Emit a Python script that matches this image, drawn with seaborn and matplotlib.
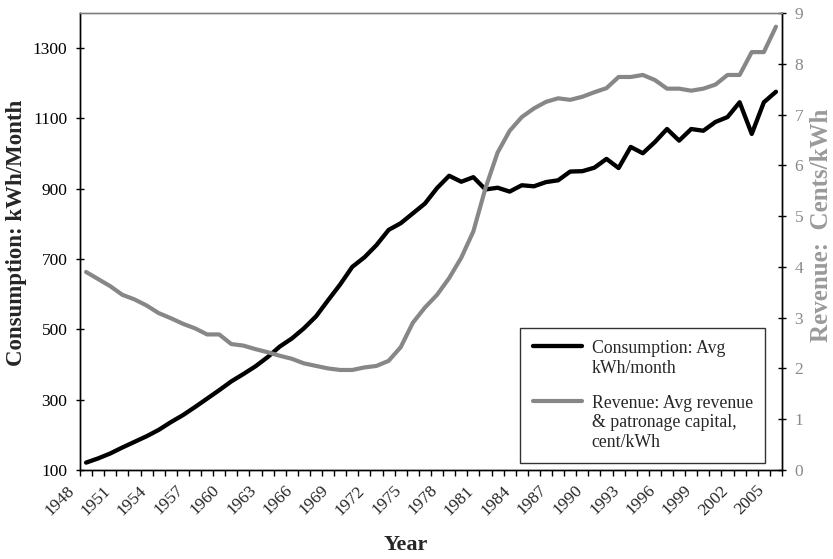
import numpy as np
import pandas as pd
import matplotlib.pyplot as plt
import matplotlib.transforms as mtransforms
from matplotlib.lines import Line2D
import seaborn as sns

# data
years = list(range(1948, 2006))
consumption = [121, 133, 147, 164, 180, 196, 214, 236, 256, 279,
               303, 327, 352, 373, 395, 421, 451, 474, 503, 537,
               583, 628, 678, 705, 740, 783, 802, 830, 858, 902,
               937, 920, 933, 898, 903, 892, 910, 907, 919, 924,
               949, 950, 960, 985, 959, 1019, 1001, 1033, 1070, 1037,
               1070, 1065, 1090, 1104, 1146, 1056, 1146, 1176]
revenue = [3.90, 3.76, 3.62, 3.45, 3.36, 3.24, 3.09, 2.99, 2.88, 2.79,
           2.67, 2.67, 2.48, 2.45, 2.38, 2.32, 2.25, 2.19, 2.10, 2.05,
           2.00, 1.97, 1.97, 2.02, 2.05, 2.15, 2.42, 2.90, 3.20, 3.45,
           3.78, 4.18, 4.70, 5.55, 6.25, 6.68, 6.95, 7.12, 7.25, 7.32,
           7.29, 7.35, 7.44, 7.52, 7.74, 7.74, 7.78, 7.68, 7.51, 7.51,
           7.47, 7.51, 7.59, 7.78, 7.78, 8.23, 8.23, 8.73]
year_labels = years[::3]
left_ticks = [100, 300, 500, 700, 900, 1100, 1300]
right_ticks = list(range(0, 10))
legend_labels = ['Consumption: Avg\nkWh/month',
                 'Revenue: Avg revenue\n& patronage capital,\ncent/kWh']

df = pd.DataFrame({'year': years, 'consumption': consumption, 'revenue': revenue})

sns.set_theme(style='white')
plt.rcParams['font.family'] = ['Liberation Serif', 'DejaVu Serif']

black = '#000000'
gray = '#878787'

fig = plt.figure(figsize=(8.33, 5.59), dpi=100)
ax = fig.add_axes([80 / 833, 1 - 470 / 559, 702 / 833, 457 / 559])
ax2 = ax.twinx()

sns.lineplot(data=df, x='year', y='consumption', ax=ax, color=black,
             linewidth=3.1, solid_joinstyle='round', solid_capstyle='round')
sns.lineplot(data=df, x='year', y='revenue', ax=ax2, color=gray,
             linewidth=3.0, solid_joinstyle='round', solid_capstyle='round')

ax.set_xlim(1947.5, 2005.5)
ax.set_ylim(100, 1400)
ax2.set_ylim(0, 9)
ax.set_xlabel('')
ax.set_ylabel('')
ax2.set_ylabel('')

ax.set_xticks(year_labels)
ax.set_xticklabels([str(y) for y in year_labels])
ax.set_xticks(np.arange(1947.5, 2006, 1), minor=True)
ax.set_yticks(left_ticks)
ax2.set_yticks(right_ticks)

ax.tick_params(axis='x', which='major', bottom=True, length=0, labelsize=12.5, pad=9)
ax.tick_params(axis='x', which='minor', bottom=True, direction='out', length=4,
               width=1, color=black)
ax.tick_params(axis='y', left=True, direction='inout', length=6, width=1,
               color=black, labelsize=12.5, pad=6, labelcolor=black)
ax2.tick_params(axis='y', right=True, direction='inout', length=6, width=1,
                color=black, labelsize=12.5, pad=6, labelcolor='#8a8a8a')

offset = mtransforms.ScaledTranslation(-6 / 72, 0, fig.dpi_scale_trans)
for lbl in ax.get_xticklabels():
    lbl.set_rotation(45)
    lbl.set_ha('right')
    lbl.set_va('top')
    lbl.set_transform(lbl.get_transform() + offset)

for a in (ax, ax2):
    for side in ('left', 'bottom', 'right'):
        a.spines[side].set_color(black)
        a.spines[side].set_linewidth(1)
    a.spines['top'].set_color('#808080')
    a.spines['top'].set_linewidth(1)

handles = [Line2D([], [], color=black, lw=3.1), Line2D([], [], color=gray, lw=3.0)]
leg = ax2.legend(handles, legend_labels, loc='lower right',
                 bbox_to_anchor=(0.976, 0.015), borderaxespad=0, frameon=True,
                 fancybox=False, edgecolor='#333333', framealpha=1, fontsize=12.8,
                 handlelength=2.75, handletextpad=0.55, labelspacing=1.0,
                 borderpad=0.7)
leg.get_frame().set_linewidth(1.0)
for t in leg.get_texts():
    t.set_linespacing(1.2)
# put each legend line next to the first row of its label
for col in leg._legend_handle_box.get_children():
    for row in col.get_children():
        row.align = 'top'

fig.text(406 / 833, 1 - 545 / 559, 'Year', ha='center', va='center',
         fontsize=16, fontweight='bold')
fig.text(17 / 833, 1 - 233 / 559, 'Consumption: kWh/Month', ha='center',
         va='center', rotation=90, fontsize=16.5, fontweight='bold')
fig.text(822 / 833, 1 - 225 / 559, 'Revenue:  Cents/kWh', ha='center',
         va='center', rotation=90, fontsize=18, fontweight='bold',
         color='#9a9a9a')

fig.savefig('out.png', dpi=100)
